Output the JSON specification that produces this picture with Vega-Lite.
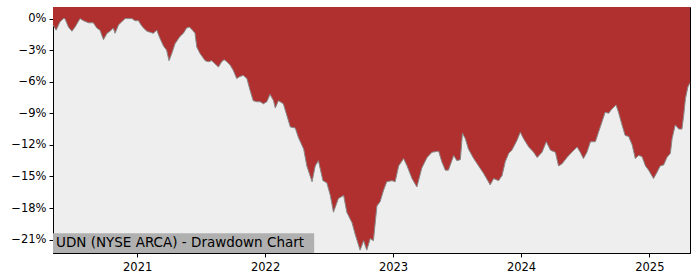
{
  "$schema": "https://vega.github.io/schema/vega-lite/v6.json",
  "autosize": "none",
  "width": 637,
  "height": 246,
  "padding": {"left": 53, "top": 7, "right": 10, "bottom": 27},
  "background": "white",
  "config": {
    "view": {"stroke": "black", "strokeWidth": 1, "fill": "#eeeeee"},
    "font": "DejaVu Sans",
    "axis": {
      "domainColor": "black",
      "tickColor": "black",
      "labelColor": "black",
      "labelFont": "DejaVu Sans",
      "labelFontSize": 11.5,
      "grid": false,
      "tickSize": 4,
      "labelOverlap": false,
      "title": null
    }
  },
  "data": {
    "values": [
      {"date": "2020-05-06", "dd": -0.6},
      {"date": "2020-05-15", "dd": -1.1},
      {"date": "2020-05-26", "dd": -0.3},
      {"date": "2020-06-05", "dd": 0},
      {"date": "2020-06-09", "dd": 0},
      {"date": "2020-06-19", "dd": -0.8},
      {"date": "2020-06-29", "dd": -1.2},
      {"date": "2020-07-08", "dd": -0.8},
      {"date": "2020-07-22", "dd": 0},
      {"date": "2020-08-01", "dd": -0.2},
      {"date": "2020-08-15", "dd": -0.4},
      {"date": "2020-08-29", "dd": -0.4},
      {"date": "2020-09-08", "dd": -0.9},
      {"date": "2020-09-17", "dd": -1.1},
      {"date": "2020-09-27", "dd": -2.0},
      {"date": "2020-10-07", "dd": -1.4},
      {"date": "2020-10-16", "dd": -1.2},
      {"date": "2020-10-25", "dd": -0.9},
      {"date": "2020-10-30", "dd": -1.4},
      {"date": "2020-11-09", "dd": -0.6},
      {"date": "2020-11-18", "dd": -0.3},
      {"date": "2020-11-28", "dd": 0},
      {"date": "2020-12-17", "dd": 0},
      {"date": "2020-12-26", "dd": -0.2},
      {"date": "2021-01-05", "dd": -0.2},
      {"date": "2021-01-10", "dd": -0.5},
      {"date": "2021-01-19", "dd": -0.9},
      {"date": "2021-01-29", "dd": -1.2},
      {"date": "2021-02-07", "dd": -1.3},
      {"date": "2021-02-16", "dd": -1.4},
      {"date": "2021-02-26", "dd": -1.1},
      {"date": "2021-03-06", "dd": -1.8},
      {"date": "2021-03-17", "dd": -2.6},
      {"date": "2021-03-26", "dd": -3.0},
      {"date": "2021-04-02", "dd": -4.0},
      {"date": "2021-04-10", "dd": -3.3},
      {"date": "2021-04-19", "dd": -2.4},
      {"date": "2021-05-03", "dd": -1.7},
      {"date": "2021-05-13", "dd": -1.4},
      {"date": "2021-05-22", "dd": -0.9},
      {"date": "2021-05-30", "dd": -0.8},
      {"date": "2021-06-08", "dd": -1.1},
      {"date": "2021-06-15", "dd": -1.4},
      {"date": "2021-06-20", "dd": -2.7},
      {"date": "2021-06-29", "dd": -3.3},
      {"date": "2021-07-14", "dd": -4.0},
      {"date": "2021-07-23", "dd": -4.1},
      {"date": "2021-08-02", "dd": -4.0},
      {"date": "2021-08-11", "dd": -4.3},
      {"date": "2021-08-21", "dd": -4.6},
      {"date": "2021-08-30", "dd": -4.1},
      {"date": "2021-09-06", "dd": -3.9},
      {"date": "2021-09-14", "dd": -4.1},
      {"date": "2021-09-23", "dd": -4.4},
      {"date": "2021-10-02", "dd": -4.9},
      {"date": "2021-10-12", "dd": -5.7},
      {"date": "2021-10-21", "dd": -5.5},
      {"date": "2021-10-31", "dd": -5.4},
      {"date": "2021-11-10", "dd": -5.7},
      {"date": "2021-11-19", "dd": -6.8},
      {"date": "2021-11-28", "dd": -7.8},
      {"date": "2021-12-08", "dd": -7.9},
      {"date": "2021-12-18", "dd": -7.9},
      {"date": "2021-12-27", "dd": -8.1},
      {"date": "2022-01-06", "dd": -7.9},
      {"date": "2022-01-15", "dd": -7.2},
      {"date": "2022-01-25", "dd": -7.8},
      {"date": "2022-01-30", "dd": -8.5},
      {"date": "2022-02-08", "dd": -7.8},
      {"date": "2022-02-22", "dd": -8.1},
      {"date": "2022-03-04", "dd": -9.2},
      {"date": "2022-03-14", "dd": -10.3},
      {"date": "2022-03-28", "dd": -10.4},
      {"date": "2022-04-06", "dd": -11.3},
      {"date": "2022-04-21", "dd": -12.4},
      {"date": "2022-04-30", "dd": -14.0},
      {"date": "2022-05-15", "dd": -15.5},
      {"date": "2022-05-24", "dd": -14.0},
      {"date": "2022-06-02", "dd": -13.5},
      {"date": "2022-06-15", "dd": -15.4},
      {"date": "2022-06-26", "dd": -15.6},
      {"date": "2022-07-06", "dd": -16.8},
      {"date": "2022-07-15", "dd": -18.4},
      {"date": "2022-07-29", "dd": -17.1},
      {"date": "2022-08-13", "dd": -16.8},
      {"date": "2022-08-22", "dd": -18.4},
      {"date": "2022-09-06", "dd": -19.4},
      {"date": "2022-09-15", "dd": -20.5},
      {"date": "2022-09-29", "dd": -22.0},
      {"date": "2022-10-09", "dd": -21.1},
      {"date": "2022-10-18", "dd": -22.0},
      {"date": "2022-10-28", "dd": -20.9},
      {"date": "2022-11-06", "dd": -21.1},
      {"date": "2022-11-16", "dd": -17.8},
      {"date": "2022-11-25", "dd": -17.4},
      {"date": "2022-12-05", "dd": -16.3},
      {"date": "2022-12-14", "dd": -15.5},
      {"date": "2022-12-29", "dd": -15.4},
      {"date": "2023-01-07", "dd": -15.5},
      {"date": "2023-01-17", "dd": -14.0},
      {"date": "2023-01-31", "dd": -13.3},
      {"date": "2023-02-10", "dd": -14.0},
      {"date": "2023-02-24", "dd": -15.2},
      {"date": "2023-03-10", "dd": -16.0},
      {"date": "2023-03-24", "dd": -14.2},
      {"date": "2023-04-08", "dd": -13.2},
      {"date": "2023-04-22", "dd": -12.7},
      {"date": "2023-05-11", "dd": -12.6},
      {"date": "2023-05-20", "dd": -13.6},
      {"date": "2023-05-30", "dd": -14.4},
      {"date": "2023-06-08", "dd": -14.4},
      {"date": "2023-06-23", "dd": -13.0},
      {"date": "2023-07-02", "dd": -13.5},
      {"date": "2023-07-12", "dd": -13.4},
      {"date": "2023-07-18", "dd": -10.9},
      {"date": "2023-07-26", "dd": -11.4},
      {"date": "2023-08-04", "dd": -12.4},
      {"date": "2023-08-19", "dd": -13.3},
      {"date": "2023-09-02", "dd": -14.0},
      {"date": "2023-09-16", "dd": -14.7},
      {"date": "2023-09-30", "dd": -15.5},
      {"date": "2023-10-05", "dd": -15.8},
      {"date": "2023-10-15", "dd": -15.2},
      {"date": "2023-10-29", "dd": -15.4},
      {"date": "2023-11-08", "dd": -14.9},
      {"date": "2023-11-17", "dd": -13.6},
      {"date": "2023-11-27", "dd": -12.8},
      {"date": "2023-12-06", "dd": -12.5},
      {"date": "2023-12-20", "dd": -11.6},
      {"date": "2023-12-30", "dd": -10.8},
      {"date": "2024-01-08", "dd": -11.4},
      {"date": "2024-01-23", "dd": -12.2},
      {"date": "2024-02-06", "dd": -12.7},
      {"date": "2024-02-16", "dd": -13.2},
      {"date": "2024-03-01", "dd": -12.7},
      {"date": "2024-03-13", "dd": -11.7},
      {"date": "2024-03-25", "dd": -12.5},
      {"date": "2024-04-08", "dd": -12.7},
      {"date": "2024-04-17", "dd": -14.0},
      {"date": "2024-04-27", "dd": -13.8},
      {"date": "2024-05-11", "dd": -13.2},
      {"date": "2024-05-25", "dd": -12.7},
      {"date": "2024-06-09", "dd": -12.2},
      {"date": "2024-06-18", "dd": -12.7},
      {"date": "2024-06-27", "dd": -13.3},
      {"date": "2024-07-07", "dd": -12.7},
      {"date": "2024-07-17", "dd": -11.7},
      {"date": "2024-07-31", "dd": -11.7},
      {"date": "2024-08-09", "dd": -10.8},
      {"date": "2024-08-19", "dd": -9.8},
      {"date": "2024-08-28", "dd": -8.9},
      {"date": "2024-09-07", "dd": -9.0},
      {"date": "2024-09-16", "dd": -8.6},
      {"date": "2024-09-28", "dd": -8.2},
      {"date": "2024-10-05", "dd": -8.9},
      {"date": "2024-10-15", "dd": -10.1},
      {"date": "2024-10-24", "dd": -11.1},
      {"date": "2024-11-03", "dd": -11.2},
      {"date": "2024-11-13", "dd": -12.0},
      {"date": "2024-11-22", "dd": -13.3},
      {"date": "2024-12-01", "dd": -13.0},
      {"date": "2024-12-11", "dd": -13.1},
      {"date": "2024-12-21", "dd": -14.0},
      {"date": "2024-12-30", "dd": -14.4},
      {"date": "2025-01-13", "dd": -15.2},
      {"date": "2025-01-23", "dd": -14.6},
      {"date": "2025-02-01", "dd": -14.0},
      {"date": "2025-02-11", "dd": -13.9},
      {"date": "2025-02-20", "dd": -13.2},
      {"date": "2025-03-02", "dd": -12.8},
      {"date": "2025-03-07", "dd": -11.4},
      {"date": "2025-03-16", "dd": -10.1},
      {"date": "2025-03-26", "dd": -10.5},
      {"date": "2025-04-04", "dd": -10.5},
      {"date": "2025-04-09", "dd": -9.2},
      {"date": "2025-04-14", "dd": -7.6},
      {"date": "2025-04-21", "dd": -6.5},
      {"date": "2025-04-27", "dd": -6.1}
    ]
  },
  "layer": [
    {
      "mark": {"type": "area", "color": "#b03030", "interpolate": "linear"},
      "encoding": {
        "x": {
          "field": "date",
          "type": "temporal",
          "scale": {"nice": false},
          "axis": {"format": "%Y", "tickCount": {"interval": "year", "step": 1}, "labelPadding": 4, "labelFlush": false}
        },
        "y": {
          "field": "dd",
          "type": "quantitative",
          "scale": {"domain": [-22.27, 1.1], "nice": false, "zero": false},
          "axis": {"values": [0, -3, -6, -9, -12, -15, -18, -21], "tickCount": 20, "labelExpr": "format(datum.value, 'd') + '%'", "labelPadding": 3}
        },
        "y2": {"datum": 1.1}
      }
    },
    {
      "mark": {"type": "line", "color": "#8a8a8a", "strokeWidth": 1, "interpolate": "linear"},
      "encoding": {
        "x": {"field": "date", "type": "temporal"},
        "y": {"field": "dd", "type": "quantitative"}
      }
    },
    {
      "data": {"values": [{"label": "UDN (NYSE ARCA) - Drawdown Chart"}]},
      "mark": {"type": "rect", "color": "#b0b0b0"},
      "encoding": {
        "x": {"datum": {"year": 2020, "month": 5, "date": 6}},
        "x2": {"datum": {"year": 2022, "month": 5, "date": 21}},
        "y": {"datum": -22.27},
        "y2": {"datum": -20.4}
      }
    },
    {
      "data": {"values": [{"label": "UDN (NYSE ARCA) - Drawdown Chart"}]},
      "mark": {"type": "text", "align": "left", "baseline": "alphabetic", "fontSize": 13.5, "font": "DejaVu Sans", "color": "black", "dx": 3},
      "encoding": {
        "x": {"datum": {"year": 2020, "month": 5, "date": 6}},
        "y": {"datum": -21.72},
        "text": {"field": "label"}
      }
    }
  ]
}
